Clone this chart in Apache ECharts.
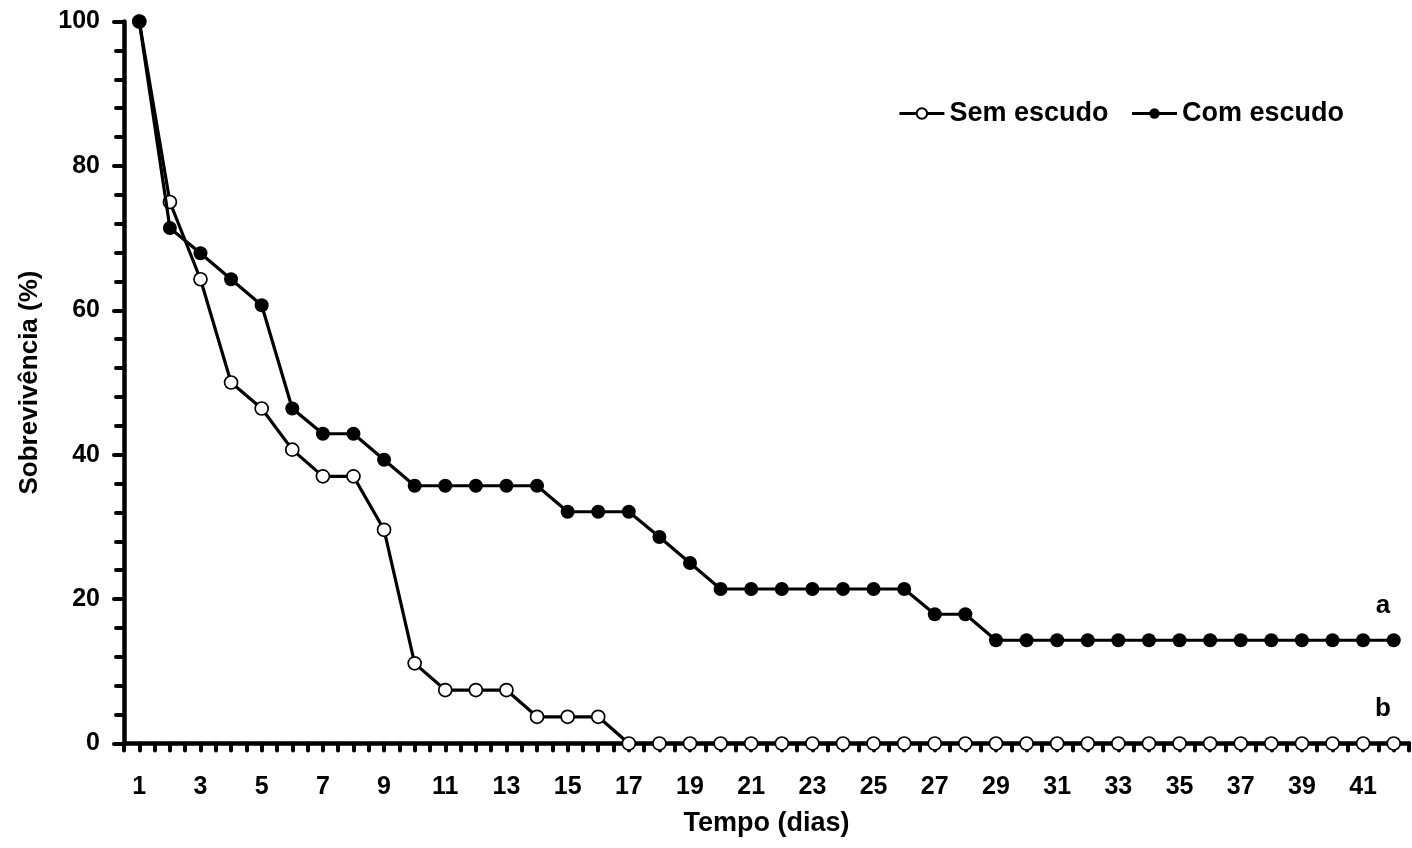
<!DOCTYPE html>
<html>
<head>
<meta charset="utf-8">
<script src="https://cdn.jsdelivr.net/npm/echarts@6/dist/echarts.min.js"></script>
<style>
html,body{margin:0;padding:0;background:#fff;}
#chart{width:1412px;height:848px;}
</style>
</head>
<body>
<div id="chart"></div>
<script>
// Days (x categories)
const days = [1,2,3,4,5,6,7,8,9,10,11,12,13,14,15,16,17,18,19,20,21,22,23,24,25,26,27,28,29,30,31,32,33,34,35,36,37,38,39,40,41,42];
// Survival (%) – without shield
const semEscudo = [100,75,64.3,50,46.4,40.7,37,37,29.6,11.1,7.4,7.4,7.4,3.7,3.7,3.7,0,0,0,0,0,0,0,0,0,0,0,0,0,0,0,0,0,0,0,0,0,0,0,0,0,0];
// Survival (%) – with shield
const comEscudo = [100,71.4,67.9,64.3,60.7,46.4,42.9,42.9,39.3,35.7,35.7,35.7,35.7,35.7,32.1,32.1,32.1,28.6,25,21.4,21.4,21.4,21.4,21.4,21.4,21.4,17.9,17.9,14.3,14.3,14.3,14.3,14.3,14.3,14.3,14.3,14.3,14.3,14.3,14.3,14.3,14.3];
const xTickLabels = [1,3,5,7,9,11,13,15,17,19,21,23,25,27,29,31,33,35,37,39,41];
const yTicks = [0,20,40,60,80,100];
const seriesNames = ['Sem escudo','Com escudo'];
const annotations = [{text:'a', day:41.65, value:19.0},{text:'b', day:41.65, value:4.8}];

const FONT = "'Liberation Sans', Arial, sans-serif";
const chart = echarts.init(document.getElementById('chart'));
const pair = arr => days.map((d,i)=>[d, arr[i]]);

chart.setOption({
  animation:false,
  backgroundColor:'#fff',
  textStyle:{fontFamily:FONT},
  grid:{left:124, right:-5, top:21.5, bottom:104.5, containLabel:false},
  legend:{
    data:seriesNames, right:63, top:95,
    itemWidth:45, itemHeight:13, itemGap:22,
    lineStyle:{width:3, color:'#000'},
    textStyle:{fontSize:27, fontWeight:'bold', color:'#000', fontFamily:FONT}
  },
  xAxis:{
    type:'value', min:0.5, max:42.5, interval:0.5,
    name:'Tempo (dias)', nameLocation:'middle', nameGap:67,
    nameTextStyle:{fontSize:27, fontWeight:'bold', color:'#000', fontFamily:FONT},
    axisLine:{show:true, onZero:false, lineStyle:{color:'#000', width:4.5, cap:'round'}},
    axisTick:{show:true, length:7, lineStyle:{color:'#000', width:4, cap:'round'}},
    axisLabel:{
      margin:31, fontSize:25, fontWeight:'bold', color:'#000', fontFamily:FONT,
      formatter:v => xTickLabels.indexOf(v) >= 0 ? String(v) : ''
    },
    splitLine:{show:false}
  },
  yAxis:{
    type:'value', min:yTicks[0], max:yTicks[yTicks.length-1], interval:20,
    name:'Sobrevivência (%)', nameLocation:'middle', nameGap:81, nameRotate:90,
    nameTextStyle:{fontSize:26, fontWeight:'bold', color:'#000', fontFamily:FONT},
    axisLine:{show:true, lineStyle:{color:'#000', width:4.5, cap:'round'}},
    axisTick:{show:true, length:10, lineStyle:{color:'#000', width:4, cap:'round'}},
    minorTick:{show:true, splitNumber:5, length:8, lineStyle:{color:'#000', width:4, cap:'round'}},
    axisLabel:{margin:24, fontSize:25, fontWeight:'bold', color:'#000', fontFamily:FONT},
    splitLine:{show:false}
  },
  series:[
    {
      name:seriesNames[0], type:'line', data:pair(semEscudo),
      symbol:'circle', symbolSize:13, z:3,
      lineStyle:{color:'#000', width:3.2},
      itemStyle:{color:'#fff', borderColor:'#000', borderWidth:1.7},
      markPoint:{
        symbol:'circle', symbolSize:0,
        data:annotations.map(a=>({coord:[a.day, a.value], value:a.text})),
        label:{show:true, position:'inside', formatter:p=>p.value, fontSize:26, fontWeight:'bold', color:'#000', fontFamily:FONT}
      }
    },
    {
      name:seriesNames[1], type:'line', data:pair(comEscudo),
      symbol:'circle', symbolSize:14, z:4,
      lineStyle:{color:'#000', width:3.2},
      itemStyle:{color:'#000', borderColor:'#000', borderWidth:0}
    }
  ]
});
</script>
</body>
</html>
